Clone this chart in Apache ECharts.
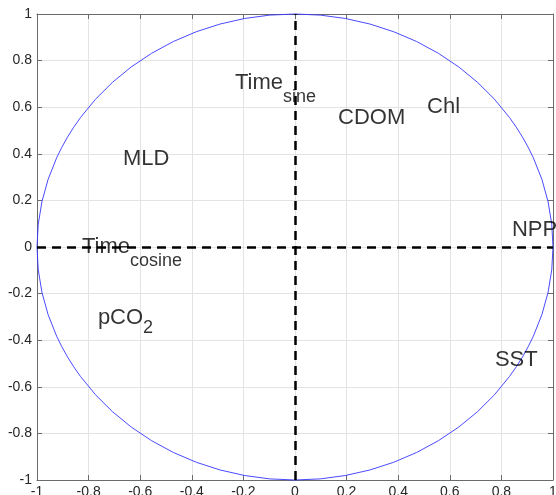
<!DOCTYPE html>
<html>
<head>
<meta charset="utf-8">
<script src="https://cdn.jsdelivr.net/npm/echarts@6/dist/echarts.min.js"></script>
<style>
  html, body { margin: 0; padding: 0; background: #fff; }
  #main { width: 556px; height: 495px; }
</style>
</head>
<body>
<div id="main"></div>
<script>
// variable names (main part, subscript)
var names = ['MLD', 'Time', 'CDOM', 'Chl', 'NPP', 'Time', 'pCO', 'SST'];
var subs = ['', 'sine', '', '', '', 'cosine', '2', ''];
// label anchor positions (left edge of text, vertical middle)
var xVals = [-0.667, -0.233, 0.167, 0.512, 0.841, -0.826, -0.764, 0.775];
var yVals = [0.382, 0.710, 0.558, 0.605, 0.079, 0.004, -0.300, -0.479];
// unit circle: centre x, centre y, radius
var circleData = [[0, 0, 1]];
// axis range and tick step
var axisMin = -1, axisMax = 1, axisStep = 0.2;

var Biplot = function() {
	var option;

	var buildPoints = function() {
		var pts = [];
		for (var i = 0; i < names.length; i++) {
			pts.push({ value: [xVals[i], yVals[i]], name: names[i], sub: subs[i] });
		}
		return pts;
	};

	var valueAxis = function(pos, main) {
		return {
			type: 'value',
			position: pos,
			min: axisMin,
			max: axisMax,
			interval: axisStep,
			axisLine: { show: true, onZero: false, lineStyle: { color: '#6b6b6b', width: 1 } },
			axisTick: { show: true, inside: true, length: 5, lineStyle: { color: '#6b6b6b' } },
			splitLine: { show: main, lineStyle: { color: '#e3e3e3', width: 1 } },
			axisLabel: {
				show: main,
				showMinLabel: true,
				showMaxLabel: true,
				hideOverlap: false,
				color: '#262626',
				fontFamily: 'Liberation Sans',
				fontSize: 14,
				margin: 5
			}
		};
	};

	var initOption = function() {
		option = {
			animation: false,
			backgroundColor: '#fff',
			grid: { left: 37, right: 3, top: 14, bottom: 15, containLabel: false, outerBoundsMode: 'none' },
			xAxis: [valueAxis('bottom', true), valueAxis('top', false)],
			yAxis: [valueAxis('left', true), valueAxis('right', false)],
			series: [
				{
					type: 'custom',
					data: circleData,
					silent: true,
					z: 2,
					renderItem: function(params, api) {
						var c = api.coord([api.value(0), api.value(1)]);
						var e = api.coord([api.value(0) + api.value(2), api.value(1) + api.value(2)]);
						var rx = e[0] - c[0], ry = c[1] - e[1];
						var d = 'M' + (c[0] - rx) + ' ' + c[1] +
							' A' + rx + ' ' + ry + ' 0 1 0 ' + (c[0] + rx) + ' ' + c[1] +
							' A' + rx + ' ' + ry + ' 0 1 0 ' + (c[0] - rx) + ' ' + c[1] + ' Z';
						return {
							type: 'path',
							shape: { pathData: d, x: c[0] - rx, y: c[1] - ry, width: 2 * rx, height: 2 * ry, layout: 'cover' },
							style: { fill: 'none', stroke: '#3535ff', lineWidth: 0.9 }
						};
					}
				},
				{
					type: 'scatter',
					data: buildPoints(),
					symbolSize: 0,
					silent: true,
					z: 4,
					label: {
						show: true,
						position: [0, 0],
						align: 'left',
						verticalAlign: 'top',
						offset: [0, -10],
						color: '#000',
						textBorderWidth: 0,
						formatter: function(p) {
							var s = '{a|' + p.data.name + '}';
							if (p.data.sub) {
								s += (p.data.sub === '2' ? '{c|' : '{b|') + p.data.sub + '}';
							}
							return s;
						},
						rich: {
							a: { fontFamily: 'Liberation Sans', fontSize: 22, color: '#000', verticalAlign: 'top' },
							b: { fontFamily: 'Liberation Sans', fontSize: 18, color: '#000', verticalAlign: 'top', padding: [16, 0, 0, 0] },
							c: { fontFamily: 'Liberation Sans', fontSize: 18, color: '#000', verticalAlign: 'top', padding: [12, 0, 0, 0] }
						}
					},
					markLine: {
						silent: true,
						symbol: 'none',
						label: { show: false },
						lineStyle: { color: '#000', width: 2.5, type: [9, 6] },
						data: [{ xAxis: 0 }, { yAxis: 0 }]
					}
				}
			]
		};
	};

	return {
		init: function(showDivID) {
			var myChart = echarts.init(document.getElementById(showDivID), null, { renderer: 'canvas' });
			initOption();
			myChart.setOption(option);
			return myChart;
		}
	};
}();

Biplot.init('main');
</script>
</body>
</html>
